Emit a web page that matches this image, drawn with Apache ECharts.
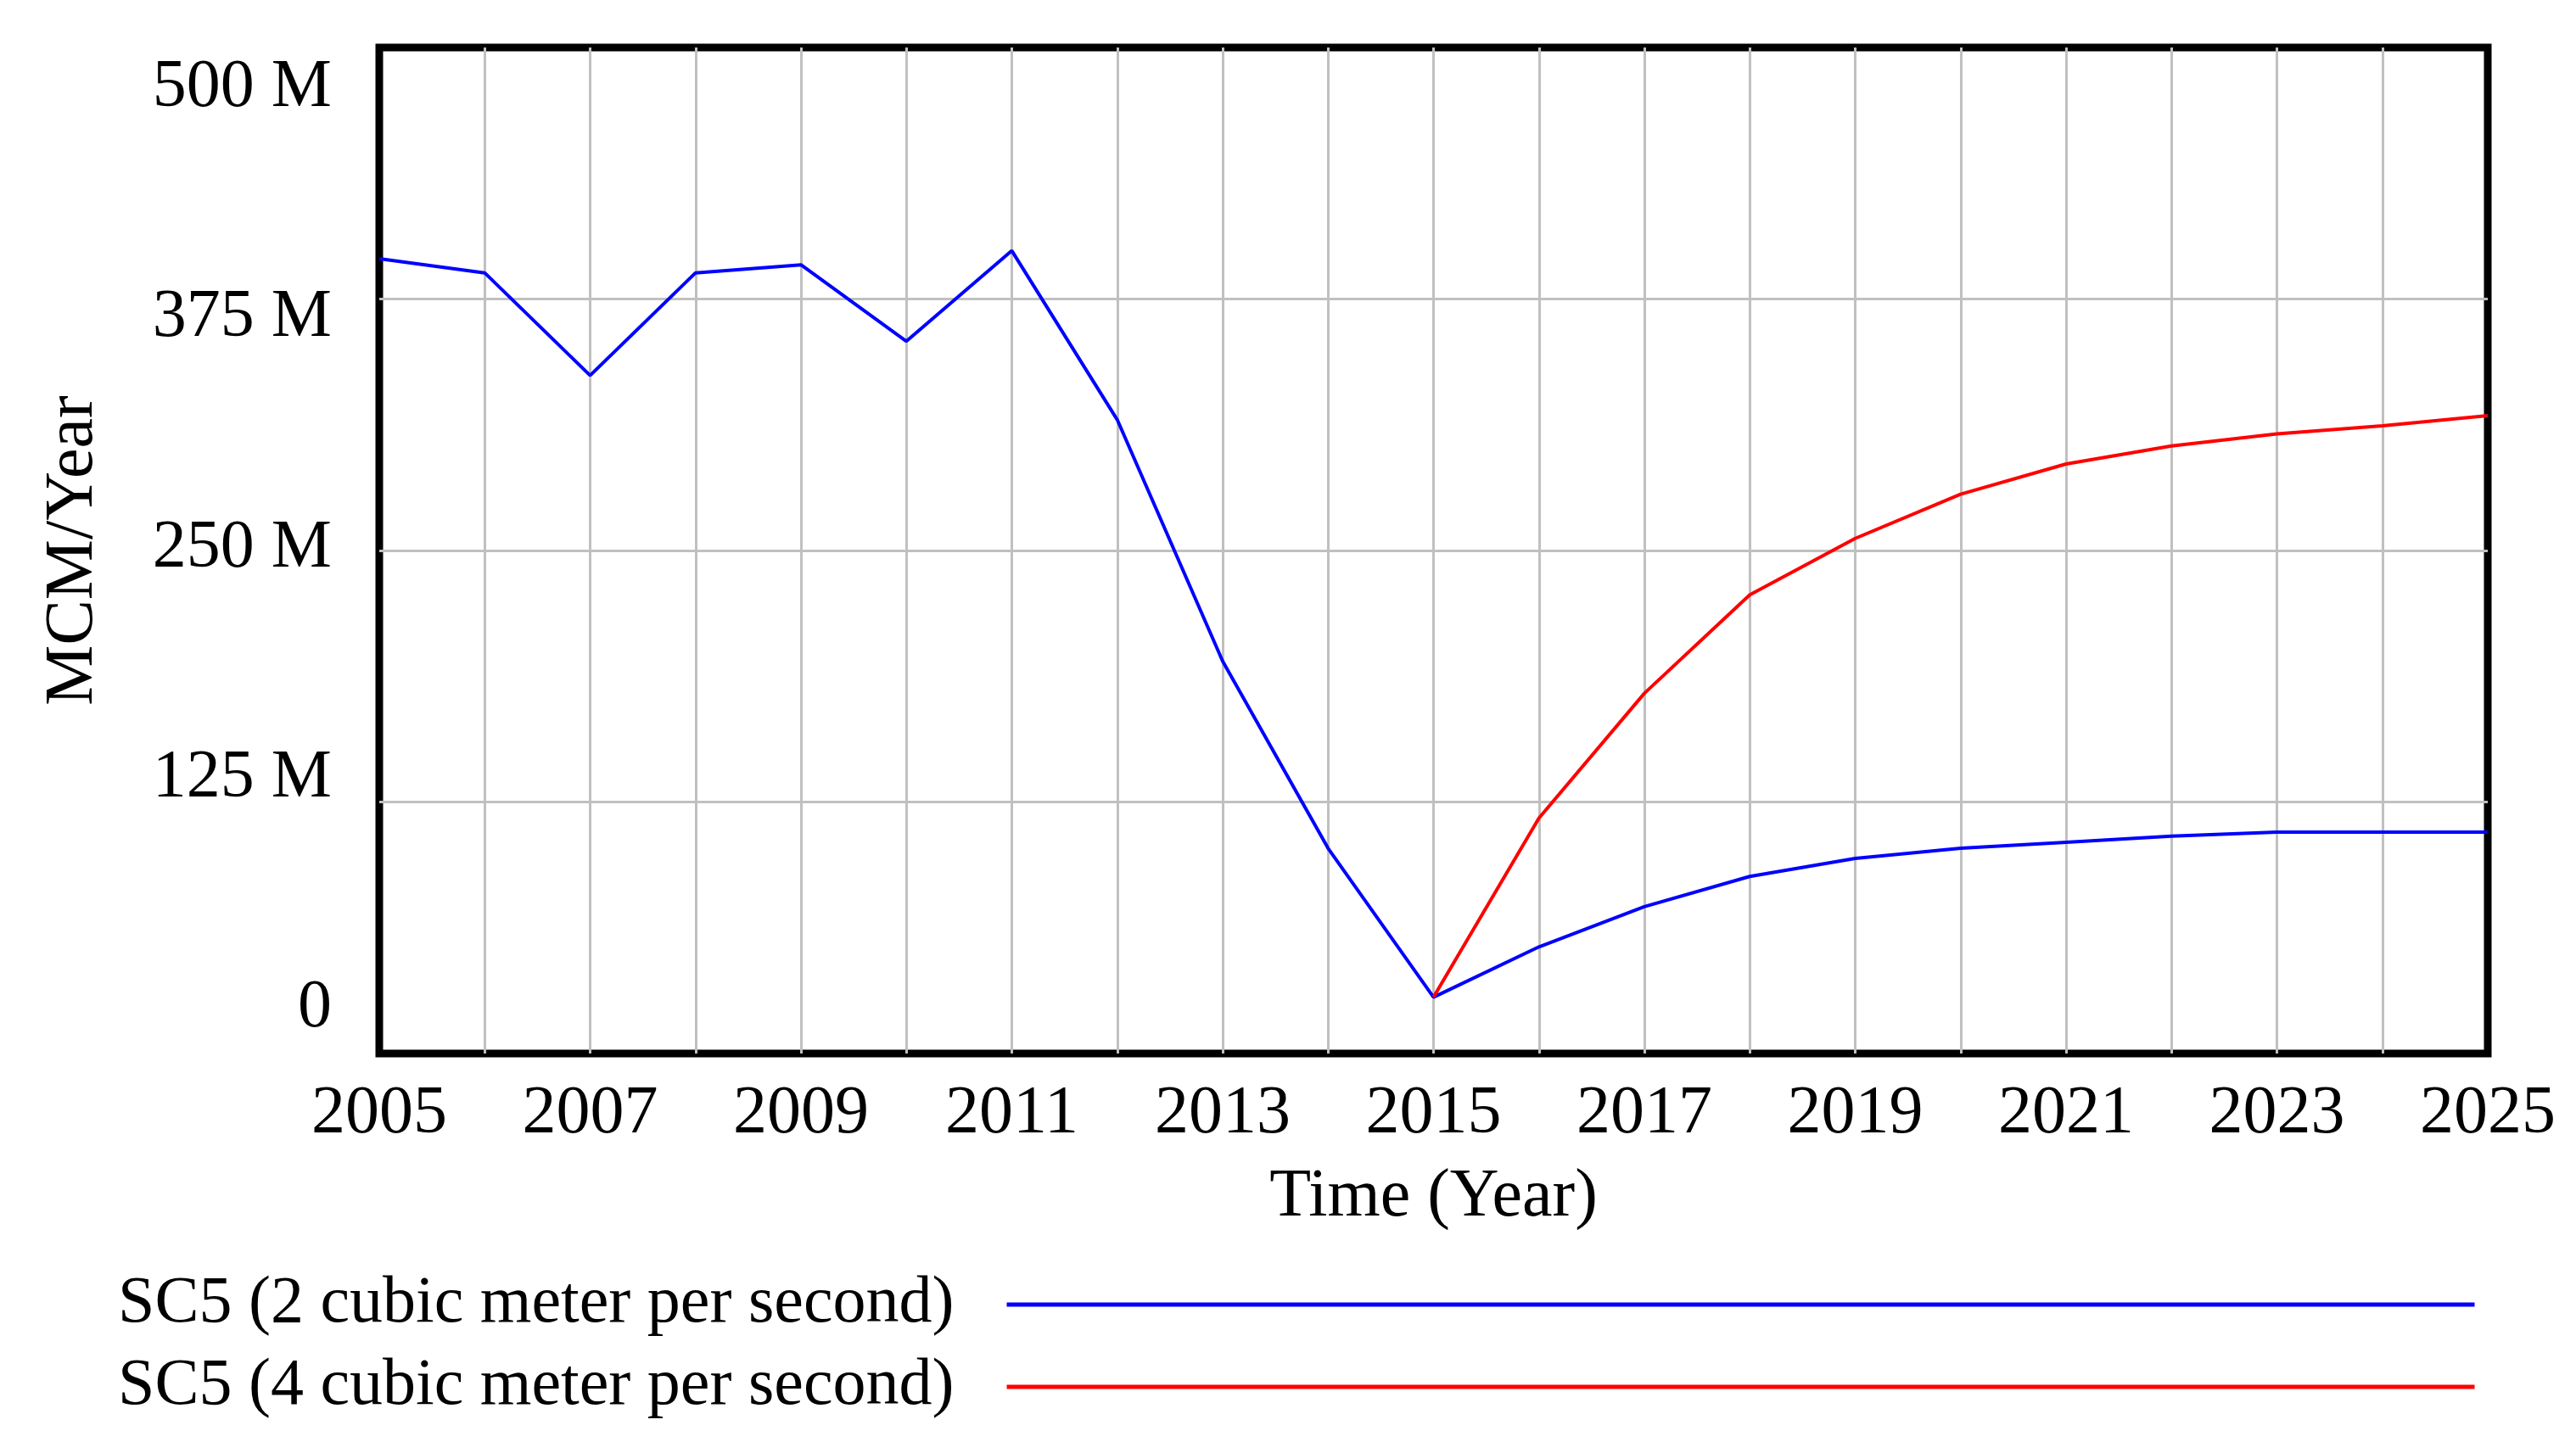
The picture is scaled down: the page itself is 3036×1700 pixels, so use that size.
<!DOCTYPE html>
<html>
<head>
<meta charset="utf-8">
<script src="https://cdn.jsdelivr.net/npm/echarts@6/dist/echarts.min.js"></script>
<style>
  html, body { margin: 0; padding: 0; background: #fff; }
  #main { width: 3036px; height: 1700px; }
</style>
</head>
<body>
<div id="main"></div>
<script>
// SC5 시나리오 비교 (MCM/Year)
var years = [2005, 2006, 2007, 2008, 2009, 2010, 2011, 2012, 2013, 2014, 2015,
             2016, 2017, 2018, 2019, 2020, 2021, 2022, 2023, 2024, 2025]
var sc5_2cms = [395, 388, 337, 388, 392, 354, 399, 315, 195, 102, 28,
                53, 73, 88, 97, 102, 105, 108, 110, 110, 110]
var years_4cms = [2015, 2016, 2017, 2018, 2019, 2020, 2021, 2022, 2023, 2024, 2025]
var sc5_4cms = [28, 117, 179, 228, 256, 278, 293, 302, 308, 312, 317]
var yTicks = [0, 125, 250, 375, 500]
var seriesNames = ['SC5 (2 cubic meter per second)', 'SC5 (4 cubic meter per second)']

var font = 'Liberation Serif'

function pairs(xs, ys) {
  return xs.map(function (x, i) { return [x, ys[i]] })
}

var chart = echarts.init(document.getElementById('main'))

var option = {
  animation: false,
  backgroundColor: '#fff',
  grid: {
    left: 447,
    right: 104,
    top: 56,
    bottom: 458,
    show: true,
    borderColor: '#000',
    borderWidth: 9,
    backgroundColor: 'transparent'
  },
  legend: {
    orient: 'vertical',
    left: 139,
    top: 1498,
    padding: 0,
    align: 'right',
    icon: 'rect',
    itemWidth: 1730,
    itemHeight: 5,
    itemGap: 17,
    selectedMode: false,
    data: seriesNames,
    textStyle: {
      fontFamily: font,
      fontSize: 78,
      lineHeight: 80,
      color: '#000',
      padding: [0, 57, 0, 0]
    }
  },
  xAxis: {
    type: 'value',
    min: 2005,
    max: 2025,
    interval: 1,
    name: 'Time (Year)',
    nameLocation: 'middle',
    nameGap: 130,
    nameTextStyle: { fontFamily: font, fontSize: 80, color: '#000' },
    axisLine: { show: false },
    axisTick: { show: false },
    axisLabel: {
      fontFamily: font,
      fontSize: 80,
      color: '#000',
      margin: 32,
      formatter: function (v) { return (v - 2005) % 2 === 0 ? String(v) : '' }
    },
    splitLine: {
      show: true,
      showMinLine: false,
      showMaxLine: false,
      lineStyle: { color: '#c0c0c0', width: 3 }
    }
  },
  yAxis: [
    {
      type: 'value',
      min: 0,
      max: 500,
      interval: 125,
      axisLine: { show: false },
      axisTick: { show: false },
      axisLabel: { show: false },
      splitLine: {
        show: true,
        showMinLine: false,
        showMaxLine: false,
        lineStyle: { color: '#c0c0c0', width: 3 }
      }
    },
    {
      // Vensim 스타일 라벨 위치 (격자선과 약간 어긋남)
      type: 'value',
      position: 'left',
      min: -24.4,
      max: 522.2,
      name: 'MCM/Year',
      nameLocation: 'middle',
      nameGap: 320,
      nameRotate: 90,
      nameTextStyle: { fontFamily: font, fontSize: 80, color: '#000' },
      axisLine: { show: false },
      axisTick: { show: false },
      splitLine: { show: false },
      axisLabel: {
        customValues: yTicks,
        fontFamily: font,
        fontSize: 80,
        color: '#000',
        margin: 56,
        formatter: function (v) { return v === 0 ? '0' : v + ' M' }
      }
    }
  ],
  series: [
    {
      name: seriesNames[0],
      type: 'line',
      yAxisIndex: 0,
      showSymbol: false,
      data: pairs(years, sc5_2cms),
      lineStyle: { color: '#0000ff', width: 4 },
      itemStyle: { color: '#0000ff' }
    },
    {
      name: seriesNames[1],
      type: 'line',
      yAxisIndex: 0,
      showSymbol: false,
      data: pairs(years_4cms, sc5_4cms),
      lineStyle: { color: '#ff0000', width: 4 },
      itemStyle: { color: '#ff0000' }
    }
  ]
}

chart.setOption(option)
</script>
</body>
</html>
